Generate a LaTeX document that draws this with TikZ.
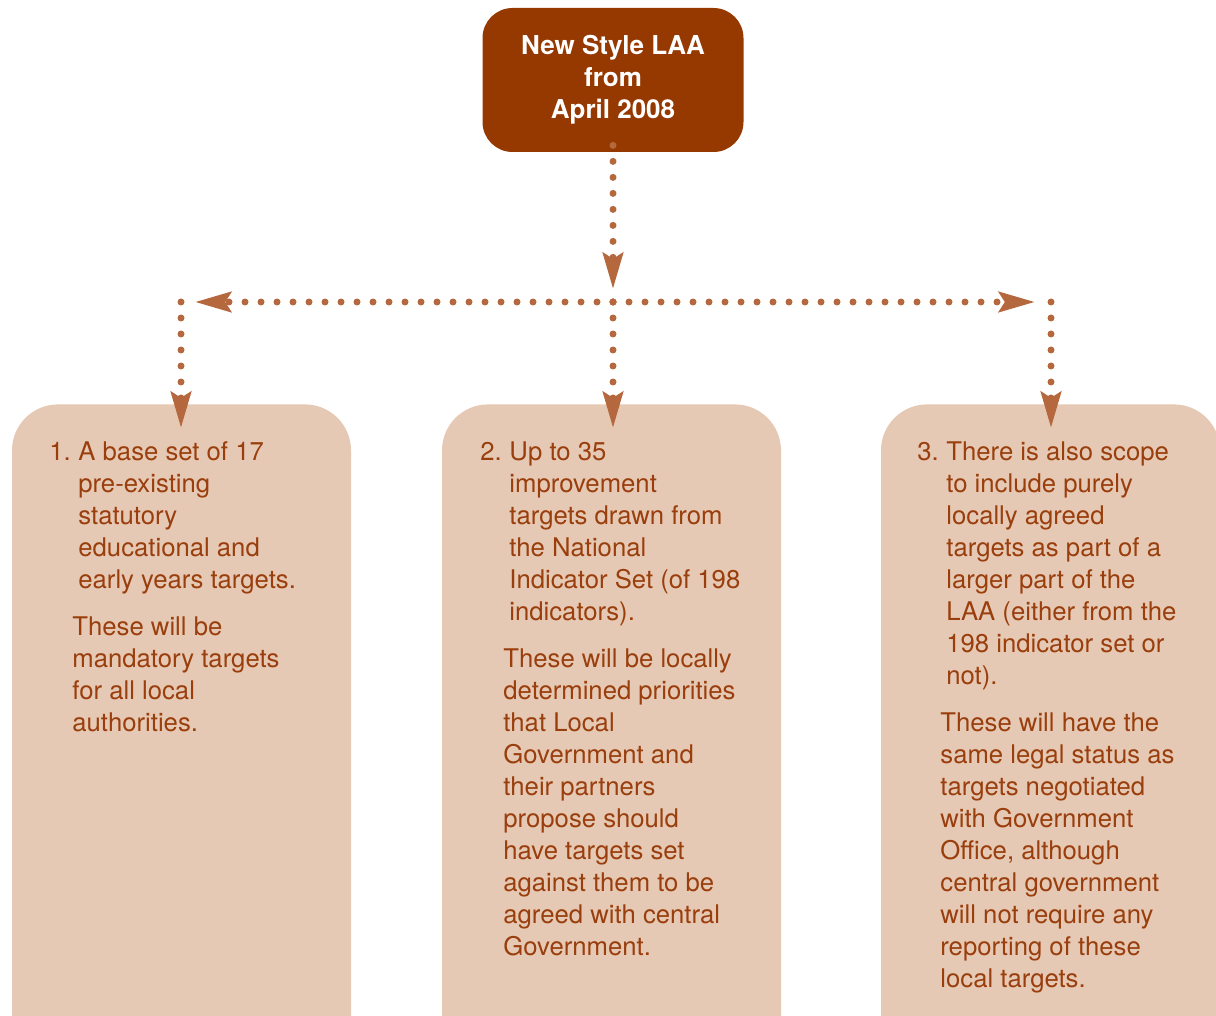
\documentclass[tikz,border=0pt]{standalone}
\usepackage{fontspec}
\setmainfont{TeX Gyre Heros}
\usetikzlibrary{arrows.meta}

\definecolor{laabrown}{RGB}{150,57,0}
\definecolor{dotbrown}{RGB}{181,104,62}
\definecolor{boxtan}{RGB}{230,201,180}
\definecolor{textbrown}{RGB}{153,62,12}

\newcommand{\itemnum}[1]{\makebox[14.5pt][l]{#1}}
\newcommand{\itemhang}{\hspace*{14.5pt}}
\newcommand{\noteindent}{\hspace*{11.5pt}}

\begin{document}
\begin{tikzpicture}[
                x=0.5pt, y=-0.5pt,
                laabox/.style={
                        fill=laabrown, rounded corners=15pt,
                        minimum width=130.5pt, minimum height=72pt,
                        text=white, align=center,
                        font=\bfseries\fontsize{13}{16}\selectfont
                    },
                targetbox/.style={
                        fill=boxtan, rounded corners=23pt,
                        minimum width=169.5pt, minimum height=330pt,
                        anchor=north
                    },
                targettext/.style={
                        anchor=north west, inner sep=0pt, align=left,
                        text=textbrown,
                        font=\fontsize{12.85}{16}\selectfont
                    },
                flow/.style={
                        draw=dotbrown, line width=3.5pt, line cap=round,
                        dash pattern=on 0pt off 8pt,
                        -{Stealth[length=18pt, width=10pt, inset=3pt]}
                    }
            ]

            \path[use as bounding box, clip] (0,0) rectangle (1216,1016);

            \node[laabox] (laa) at (613,80) {New Style LAA\\from\\April 2008};

            \node[targetbox] (box1) at (181.5,404) {};
            \node[targetbox] (box2) at (611.5,404) {};
            \node[targetbox] (box3) at (1050.5,404) {};

            \coordinate (hub) at (613,302);
            \coordinate (cornerL) at (181,302);
            \coordinate (cornerR) at (1051,302);

            % Dotted connectors
            \draw[flow, shorten <=-3.5pt, shorten >=6.5pt] (laa.south) -- (hub);
            \draw[flow, shorten >=7pt] (hub) -- (cornerL);
            \draw[flow, shorten >=8pt] (hub) -- (cornerR);
            \draw[flow, shorten >=-12pt] (cornerL) -- (cornerL |- box1.north);
            \draw[flow, shorten >=-12pt] (hub) -- (hub |- box2.north);
            \draw[flow, shorten >=-12pt] (cornerR) -- (cornerR |- box3.north);

            \node[targettext] (item1) at (49,441) {%
                \itemnum{1.}A base set of 17\\
                \itemhang pre-existing\\
                \itemhang statutory\\
                \itemhang educational and\\
                \itemhang early years targets.\\[7.5pt]
                \noteindent These will be\\
                \noteindent mandatory targets\\
                \noteindent for all local\\
                \noteindent authorities.};

            \node[targettext] (item2) at (480,441) {%
                \itemnum{2.}Up to 35\\
                \itemhang improvement\\
                \itemhang targets drawn from\\
                \itemhang the National\\
                \itemhang Indicator Set (of 198\\
                \itemhang indicators).\\[7.5pt]
                \noteindent These will be locally\\
                \noteindent determined priorities\\
                \noteindent that Local\\
                \noteindent Government and\\
                \noteindent their partners\\
                \noteindent propose should\\
                \noteindent have targets set\\
                \noteindent against them to be\\
                \noteindent agreed with central\\
                \noteindent Government.};

            \node[targettext] (item3) at (917,441) {%
                \itemnum{3.}There is also scope\\
                \itemhang to include purely\\
                \itemhang locally agreed\\
                \itemhang targets as part of a\\
                \itemhang larger part of the\\
                \itemhang LAA (either from the\\
                \itemhang 198 indicator set or\\
                \itemhang not).\\[7.5pt]
                \noteindent These will have the\\
                \noteindent same legal status as\\
                \noteindent targets negotiated\\
                \noteindent with Government\\
                \noteindent Office, although\\
                \noteindent central government\\
                \noteindent will not require any\\
                \noteindent reporting of these\\
                \noteindent local targets.};

        \end{tikzpicture}
\end{document}
